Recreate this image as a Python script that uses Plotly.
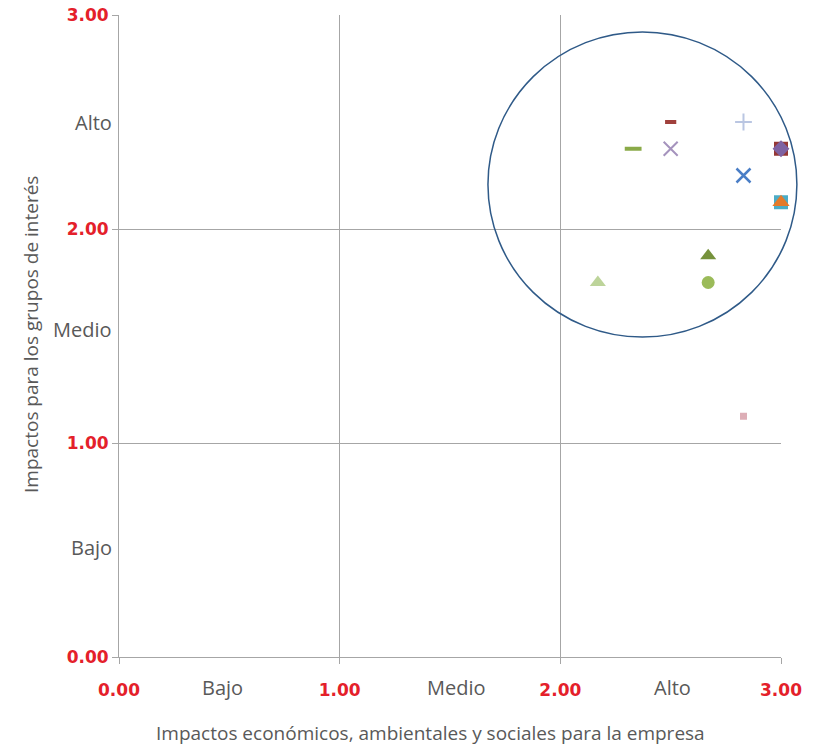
import plotly.graph_objects as go

# Data
labels = ["p1", "p2", "p3", "p4", "p5", "p6a", "p6b", "p7a", "p7b", "p8", "p9", "p10", "p11"]
x_vals = [2.50, 2.83, 2.33, 2.50, 2.83, 3.00, 3.00, 3.00, 3.00, 2.67, 2.17, 2.67, 2.83]
y_vals = [2.50, 2.50, 2.375, 2.375, 2.25, 2.375, 2.375, 2.125, 2.125, 1.875, 1.75, 1.75, 1.125]

# Styles
symbols = ["line-ew", "cross-thin", "line-ew", "x-thin", "x-thin", "square", "diamond",
           "square", "triangle-up", "triangle-up", "triangle-up", "circle", "square"]
colors = ["#A0403C", "#BAC6E2", "#8AAA48", "#A593BD", "#4A7EC6", "#953735", "#7E62A2",
          "#4BACC6", "#E47A2A", "#76923C", "#BDD49A", "#9BBB59", "#DDAEB6"]
sizes = [8, 12, 12, 14, 14, 14, 13, 14, 15, 14, 14, 13, 7]
line_w = [4, 2, 4, 2, 2.5, 0, 0, 0, 0, 0, 0, 0, 0]

tick_vals = [0, 1, 2, 3]
tick_text = ["0.00", "1.00", "2.00", "3.00"]
level_text = ["Bajo", "Medio", "Alto"]
level_pos_x = [0.47, 1.53, 2.51]
level_pos_y = [0.51, 1.53, 2.50]

X_MAX = 3.0
Y_MAX = 3.0
ellipse = dict(x0=1.672, x1=3.072, y0=1.495, y1=2.921)

RED = "#E4202A"
GRAY = "#595959"
GRID = "#A6A6A6"

fig = go.Figure()
for i in range(len(x_vals)):
    line_sym = symbols[i] in ("line-ew", "cross-thin", "x-thin")
    fig.add_trace(go.Scatter(
        x=[x_vals[i]], y=[y_vals[i]], mode="markers", name=labels[i],
        cliponaxis=False, showlegend=False,
        marker=dict(symbol=symbols[i], size=sizes[i], color=colors[i],
                    line=dict(width=line_w[i], color=colors[i]) if line_sym else dict(width=0))
    ))

# ellipse in paper coordinates so it is not clipped at the plot edge
fig.add_shape(type="circle", xref="paper", yref="paper", line=dict(color="#2F5A88", width=1.5),
              fillcolor="rgba(0,0,0,0)",
              x0=ellipse["x0"] / X_MAX, x1=ellipse["x1"] / X_MAX,
              y0=ellipse["y0"] / Y_MAX, y1=ellipse["y1"] / Y_MAX)

for px, py, t in zip(level_pos_x, level_pos_y, level_text):
    fig.add_annotation(x=px, y=0, xref="x", yref="paper", text=t, showarrow=False,
                       yanchor="middle", yshift=-30, font=dict(family="Open Sans", size=20, color=GRAY))
    fig.add_annotation(x=0, y=py, xref="paper", yref="y", text=t, showarrow=False,
                       xanchor="right", xshift=-5, font=dict(family="Open Sans", size=20, color=GRAY))

fig.add_annotation(x=(430 - 119) / 662, y=(657 - 733) / 642, xref="paper", yref="paper",
                   text="Impactos económicos, ambientales y sociales para la empresa",
                   showarrow=False, yanchor="middle",
                   font=dict(family="Open Sans", size=19, color=GRAY))
fig.add_annotation(x=(31 - 119) / 662, y=(657 - 335) / 642, xref="paper", yref="paper",
                   text="Impactos para los grupos de interés", textangle=-90,
                   showarrow=False, xanchor="center", yanchor="middle",
                   font=dict(family="Open Sans", size=19, color=GRAY))

axis_common = dict(range=[0, 3], tickvals=tick_vals, ticktext=tick_text,
                   showgrid=True, gridcolor=GRID, gridwidth=1,
                   showline=True, linecolor=GRID, linewidth=1,
                   ticks="outside", ticklen=6, tickcolor=GRID,
                   zeroline=False, fixedrange=True, automargin=False,
                   tickfont=dict(family="DejaVu Sans", size=17, color=RED, weight="bold"))

fig.update_xaxes(**axis_common, ticklabelstandoff=12)
fig.update_yaxes(**axis_common)

fig.update_layout(width=819, height=748, margin=dict(l=119, r=38, t=15, b=91),
                  plot_bgcolor="white", paper_bgcolor="white")

fig.write_html("out.html")
